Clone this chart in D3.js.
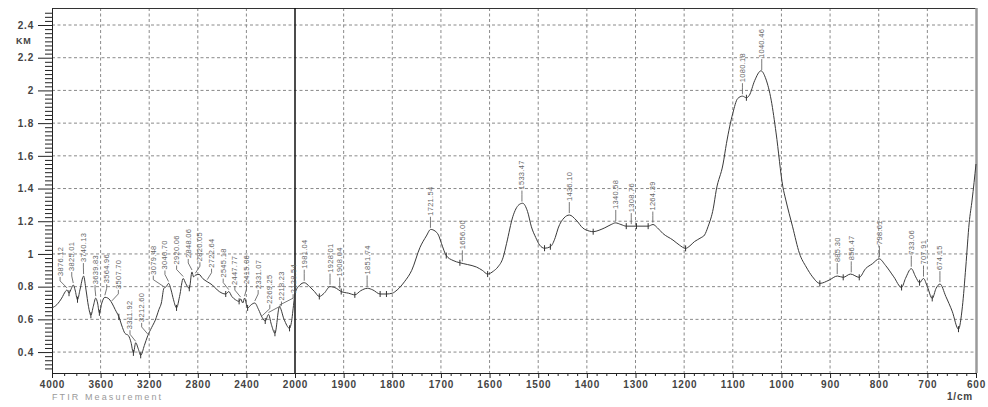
<!DOCTYPE html>
<html>
<head>
<meta charset="utf-8">
<script src="https://cdn.jsdelivr.net/npm/d3@7"></script>
<style>
  body { margin: 0; background: #fff; }
  svg { display: block; font-family: "Liberation Sans", Arial, sans-serif; }
  .grid line { stroke: #8a8a8a; stroke-dasharray: 3,2.5; }
  .axis path, .axis line { stroke: #222; }
  .axis text { font-size: 10px; font-weight: bold; fill: #444; letter-spacing: 0.8px; }
</style>
</head>
<body>
<div id="chart"></div>
<script>
// spectrum, 4000 - 2000 1/cm (compressed part)
var waveLeft = [4000,3960,3920,3890,3876,3860,3840,3825,3810,3790,3770,3740,3720,3700,3680,3660,3640,3625,3610,3590,
  3565,3540,3507,3480,3450,3420,3400,3370,3350,3330,3311,3290,3270,3240,3212,3180,3150,3120,3100,3079,
  3060,3040,3020,3000,2975,2950,2920,2900,2870,2848,2835,2820,2790,2760,2722,2700,2680,2640,2600,2570,
  2545,2520,2490,2460,2447,2430,2415,2390,2360,2331,2300,2269,2245,2218,2195,2165,2128,2090,2045,2030,2010,2000];
var kmLeft = [0.67,0.69,0.73,0.77,0.78,0.76,0.79,0.81,0.78,0.72,0.78,0.865,0.78,0.68,0.625,0.68,0.73,0.70,0.64,0.70,
  0.735,0.73,0.70,0.66,0.616,0.55,0.515,0.50,0.46,0.395,0.457,0.42,0.38,0.44,0.50,0.55,0.595,0.66,0.70,0.79,
  0.80,0.82,0.78,0.72,0.67,0.74,0.85,0.82,0.79,0.89,0.86,0.87,0.875,0.85,0.83,0.82,0.81,0.78,0.76,0.755,
  0.77,0.74,0.72,0.71,0.725,0.70,0.73,0.67,0.69,0.70,0.66,0.61,0.59,0.63,0.57,0.515,0.677,0.60,0.545,0.58,0.70,0.76];

// spectrum, 2000 - 600 1/cm
var waveRight = [2000,1990,1981,1970,1960,1950,1940,1928,1915,1905,1890,1877,1865,1851,1840,1825,1812,1800,1790,1775,
  1760,1743,1730,1721,1712,1705,1699,1689,1675,1661,1645,1627,1615,1604,1592,1583,1572,1565,1552,1540,
  1532,1522,1514,1505,1497,1487,1475,1465,1459,1447,1436,1422,1408,1395,1387,1375,1363,1350,1341,1330,
  1319,1298,1274,1264,1255,1244,1223,1210,1197,1188,1179,1165,1158,1151,1140,1134,1120,1113,1100,1090,
  1080,1072,1066,1055,1042,1032,1021,1011,997,991,977,963,949,936,921,902,885,873,858,840,
  827,813,799,786,769,753,745,733,724,716,708,700,690,682,674,662,649,636,628,621,614,608,600];
var kmRight = [0.75,0.81,0.824,0.80,0.77,0.74,0.76,0.80,0.79,0.77,0.76,0.75,0.775,0.79,0.78,0.755,0.755,0.76,0.78,0.83,
  0.90,1.04,1.11,1.15,1.14,1.115,1.065,0.99,0.96,0.946,0.935,0.92,0.90,0.877,0.895,0.92,0.98,1.065,1.23,1.30,
  1.31,1.26,1.166,1.10,1.054,1.035,1.044,1.10,1.158,1.22,1.238,1.207,1.158,1.14,1.136,1.145,1.16,1.18,1.19,1.18,
  1.17,1.17,1.17,1.18,1.16,1.126,1.085,1.055,1.034,1.05,1.075,1.10,1.116,1.166,1.28,1.39,1.55,1.676,1.86,1.95,
  1.965,1.955,1.97,2.06,2.12,2.07,1.94,1.74,1.41,1.33,1.166,1.004,0.92,0.86,0.82,0.84,0.865,0.857,0.877,0.857,
  0.91,0.94,0.97,0.93,0.86,0.795,0.85,0.91,0.86,0.824,0.85,0.80,0.728,0.79,0.816,0.74,0.65,0.54,0.677,0.92,1.19,1.33,1.55];

var peakLeft = [3876.12,3825.01,3740.13,3639.83,3564.96,3507.70,3311.92,3212.60,3079.48,3040.70,2920.06,
  2848.06,2820.05,2722.64,2545.18,2447.77,2415.06,2331.07,2269.25,2218.23,2128.54];
var peakRight = [1981.04,1928.01,1908.04,1851.74,1721.54,1656.00,1533.47,1436.10,1340.58,1308.76,1264.39,
  1080.18,1040.46,885.30,856.47,798.61,733.06,707.91,674.15];
var valleys = [3860,3790,3680,3610,3450,3330,3270,2975,2870,2570,2460,2390,2245,2165,2045,
  1950,1905,1877,1825,1812,1689,1661,1604,1487,1475,1387,1319,1298,1274,1197,1072,921,873,840,753,716,690,636];

var yMajor = [0.4,0.6,0.8,1,1.2,1.4,1.6,1.8,2,2.2,2.4];
var xMajor = [4000,3600,3200,2800,2400,2000,1900,1800,1700,1600,1500,1400,1300,1200,1100,1000,900,800,700,600];

var W = 988, H = 407;
var x = d3.scaleLinear().domain([4000, 2000, 600]).range([52, 295, 976]);
var y = d3.scaleLinear().domain([0.272, 2.504]).range([373, 8]);

var pts = waveLeft.map(function(w, i){ return [w, kmLeft[i]]; })
  .concat(waveRight.slice(1).map(function(w, i){ return [w, kmRight[i + 1]]; }));

function kmAt(w) {
  for (var i = 1; i < pts.length; i++) {
    if (pts[i][0] <= w) {
      var a = pts[i-1], b = pts[i];
      var t = (a[0] - w) / (a[0] - b[0]);
      return a[1] + t * (b[1] - a[1]);
    }
  }
  return pts[pts.length-1][1];
}

var svg = d3.select("#chart").append("svg").attr("width", W).attr("height", H);

// grid
var grid = svg.append("g").attr("class", "grid");
grid.selectAll("line.h").data(yMajor).enter().append("line")
  .attr("x1", 52).attr("x2", 976)
  .attr("y1", function(d){ return y(d); }).attr("y2", function(d){ return y(d); });
grid.selectAll("line.v").data(xMajor.filter(function(d){ return d != 4000 && d != 2000 && d != 600; }))
  .enter().append("line")
  .attr("y1", 8).attr("y2", 373)
  .attr("x1", function(d){ return x(d); }).attr("x2", function(d){ return x(d); });

// frame
svg.append("line").attr("x1", 52).attr("x2", 976).attr("y1", 8.5).attr("y2", 8.5).attr("stroke", "#333");
svg.append("line").attr("x1", 976.5).attr("x2", 976.5).attr("y1", 8).attr("y2", 373)
  .attr("stroke", "#9a9a9a").attr("stroke-width", 2.5);
svg.append("line").attr("x1", x(2000)).attr("x2", x(2000)).attr("y1", 8).attr("y2", 373)
  .attr("stroke", "#111").attr("stroke-width", 1.5);

// axes
var yMinor = d3.range(0.3, 2.5, 0.025).filter(function(v){ return Math.abs(v*5 - Math.round(v*5)) > 1e-6; });
svg.append("g").attr("class", "axis").attr("transform", "translate(52,0)")
  .call(d3.axisLeft(y).tickValues(yMinor).tickSize(7).tickFormat(""))
  .call(function(g){ g.select(".domain").remove(); });
svg.append("g").attr("class", "axis").attr("transform", "translate(52,0)")
  .call(d3.axisLeft(y).tickValues(yMajor).tickSize(14).tickPadding(4).tickSizeOuter(0).tickFormat(d3.format("~g")));

var xMinor = d3.range(3900, 2000, -100).concat(d3.range(1980, 600, -20))
  .filter(function(d){ return xMajor.indexOf(d) < 0; });
svg.append("g").attr("class", "axis").attr("transform", "translate(0,373)")
  .call(d3.axisBottom(x).tickValues(xMinor).tickSize(3).tickFormat(""))
  .call(function(g){ g.select(".domain").remove(); });
svg.append("g").attr("class", "axis").attr("transform", "translate(0,373)")
  .call(d3.axisBottom(x).tickValues(xMajor).tickSize(5).tickPadding(3).tickSizeOuter(0).tickFormat(d3.format("d")));

svg.append("text").attr("x", 16).attr("y", 44).text("KM")
  .attr("font-size", 9).attr("font-weight", "bold").attr("fill", "#444").attr("letter-spacing", 0.8);
svg.append("text").attr("x", 52).attr("y", 400).text("FTIR Measurement")
  .attr("font-size", 9).attr("fill", "#9a9a9a").attr("letter-spacing", 2.1);
svg.append("text").attr("x", 947).attr("y", 400).text("1/cm")
  .attr("font-size", 10).attr("font-weight", "bold").attr("fill", "#444").attr("letter-spacing", 0.8);

// spectrum
var line = d3.line().x(function(d){ return x(d[0]); }).y(function(d){ return y(d[1]); })
  .curve(d3.curveMonotoneX);
svg.append("path").datum(pts).attr("d", line)
  .attr("fill", "none").attr("stroke", "#3a3a3a").attr("stroke-width", 1);

// valley markers
svg.selectAll("line.valley").data(valleys).enter().append("line")
  .attr("x1", function(d){ return x(d); }).attr("x2", function(d){ return x(d); })
  .attr("y1", function(d){ return y(kmAt(d)) - 3; }).attr("y2", function(d){ return y(kmAt(d)) + 3; })
  .attr("stroke", "#333").attr("stroke-width", 1);

// peak labels; the crowded left labels get spread apart (cluster merging)
var labels = peakLeft.map(function(w){ return {w: w, px: x(w), lx: x(w)}; })
  .concat(peakRight.map(function(w){ return {w: w, px: x(w), lx: x(w)}; }));

function spread(items, gap, maxX) {
  var clusters = items.map(function(d){ return {items: [d], ideal: d.px}; });
  function place(c) {
    var mean = d3.mean(c.items, function(d){ return d.px; });
    var start = mean - gap * (c.items.length - 1) / 2;
    var end = start + gap * (c.items.length - 1);
    if (end > maxX) start -= end - maxX;
    c.start = start;
  }
  clusters.forEach(place);
  var merged = true;
  while (merged) {
    merged = false;
    for (var i = 1; i < clusters.length; i++) {
      var a = clusters[i-1], b = clusters[i];
      if (a.start + gap * a.items.length > b.start) {
        a.items = a.items.concat(b.items);
        clusters.splice(i, 1);
        place(a);
        merged = true;
        break;
      }
    }
  }
  clusters.forEach(function(c){
    c.items.forEach(function(d, j){ d.lx = c.start + gap * j; });
  });
}
spread(labels.slice(0, peakLeft.length), 11.65, 294);
labels.forEach(function(d){ d.py = y(kmAt(d.w)); });

var lab = svg.append("g");
lab.selectAll("path").data(labels).enter().append("path")
  .attr("d", function(d){
    return "M" + d.lx + "," + (d.py - 13) + "L" + d.lx + "," + (d.py - 9) + "L" + d.px + "," + (d.py - 2);
  })
  .attr("fill", "none").attr("stroke", "#555").attr("stroke-width", 0.8);
lab.selectAll("text").data(labels).enter().append("text")
  .attr("transform", function(d){ return "translate(" + d.lx + "," + (d.py - 14) + ") rotate(-90)"; })
  .attr("dy", "0.33em")
  .attr("font-size", 7.5).attr("fill", "#666").attr("letter-spacing", 0.3)
  .text(function(d){ return d.w.toFixed(2); });
</script>
</body>
</html>
